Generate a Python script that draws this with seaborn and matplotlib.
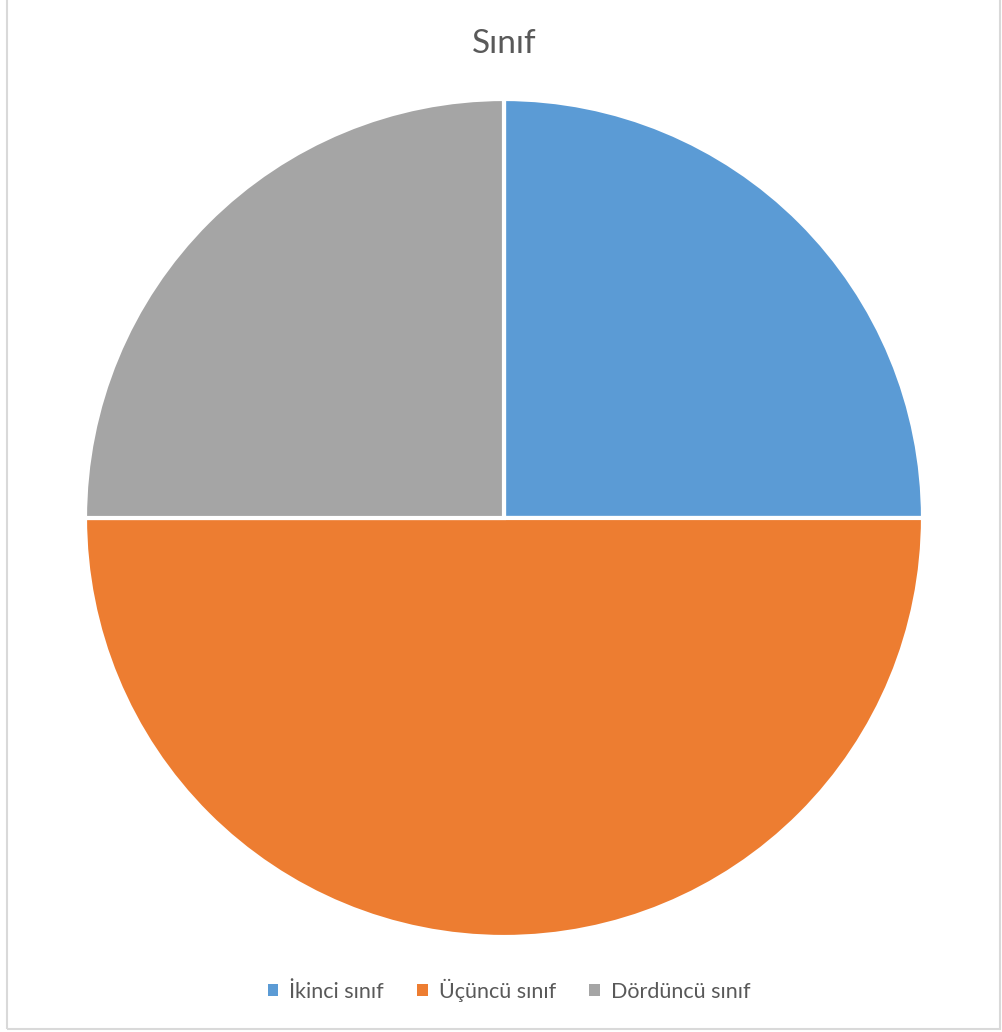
import matplotlib
matplotlib.use("Agg")
import matplotlib.pyplot as plt
from matplotlib.patches import Rectangle
import seaborn as sns

categories = ["İkinci sınıf", "Üçüncü sınıf", "Dördüncü sınıf"]
values = [25, 50, 25]
colors = ["#5B9BD5", "#ED7D31", "#A5A5A5"]
title = "Sınıf"

sns.set_theme(style="white")
plt.rcParams["font.family"] = ["Lato", "DejaVu Sans"]

W, H = 1003, 1032
fig = plt.figure(figsize=(W / 100, H / 100), dpi=100)
fig.patch.set_facecolor("white")

# chart frame (top edge runs off the canvas)
fig.patches.append(Rectangle((7 / W, 3 / H), (1000 - 7) / W, (1040 - 3) / H,
                             transform=fig.transFigure, fill=False,
                             edgecolor="#D9D9D9", linewidth=1.5))

cx, cy, r = 504, 518, 419
ax = fig.add_axes([(cx - r) / W, (H - cy - r) / H, 2 * r / W, 2 * r / H])
wedges, _ = ax.pie(values, colors=colors, startangle=90, counterclock=False, radius=1,
                   wedgeprops=dict(edgecolor="white", linewidth=3))
for w in wedges:
    w.set_clip_on(False)
ax.set_xlim(-1.0, 1.0)
ax.set_ylim(-1.0, 1.0)
ax.set_aspect("equal")
ax.axis("off")

fig.text(cx / W, 1 - 44 / H, title, ha="center", va="center",
         fontsize=24, color="#595959")

handles = [Rectangle((0, 0), 1, 1, facecolor=c, edgecolor="none") for c in colors]
fig.legend(handles, categories, loc="center", bbox_to_anchor=(509 / W, 1 - 990 / H),
           ncol=3, frameon=False, fontsize=15.5, labelcolor="#595959",
           handlelength=0.5, handleheight=0.5, handletextpad=0.5,
           columnspacing=1.55)

fig.savefig("out.png", dpi=100, facecolor="white")
